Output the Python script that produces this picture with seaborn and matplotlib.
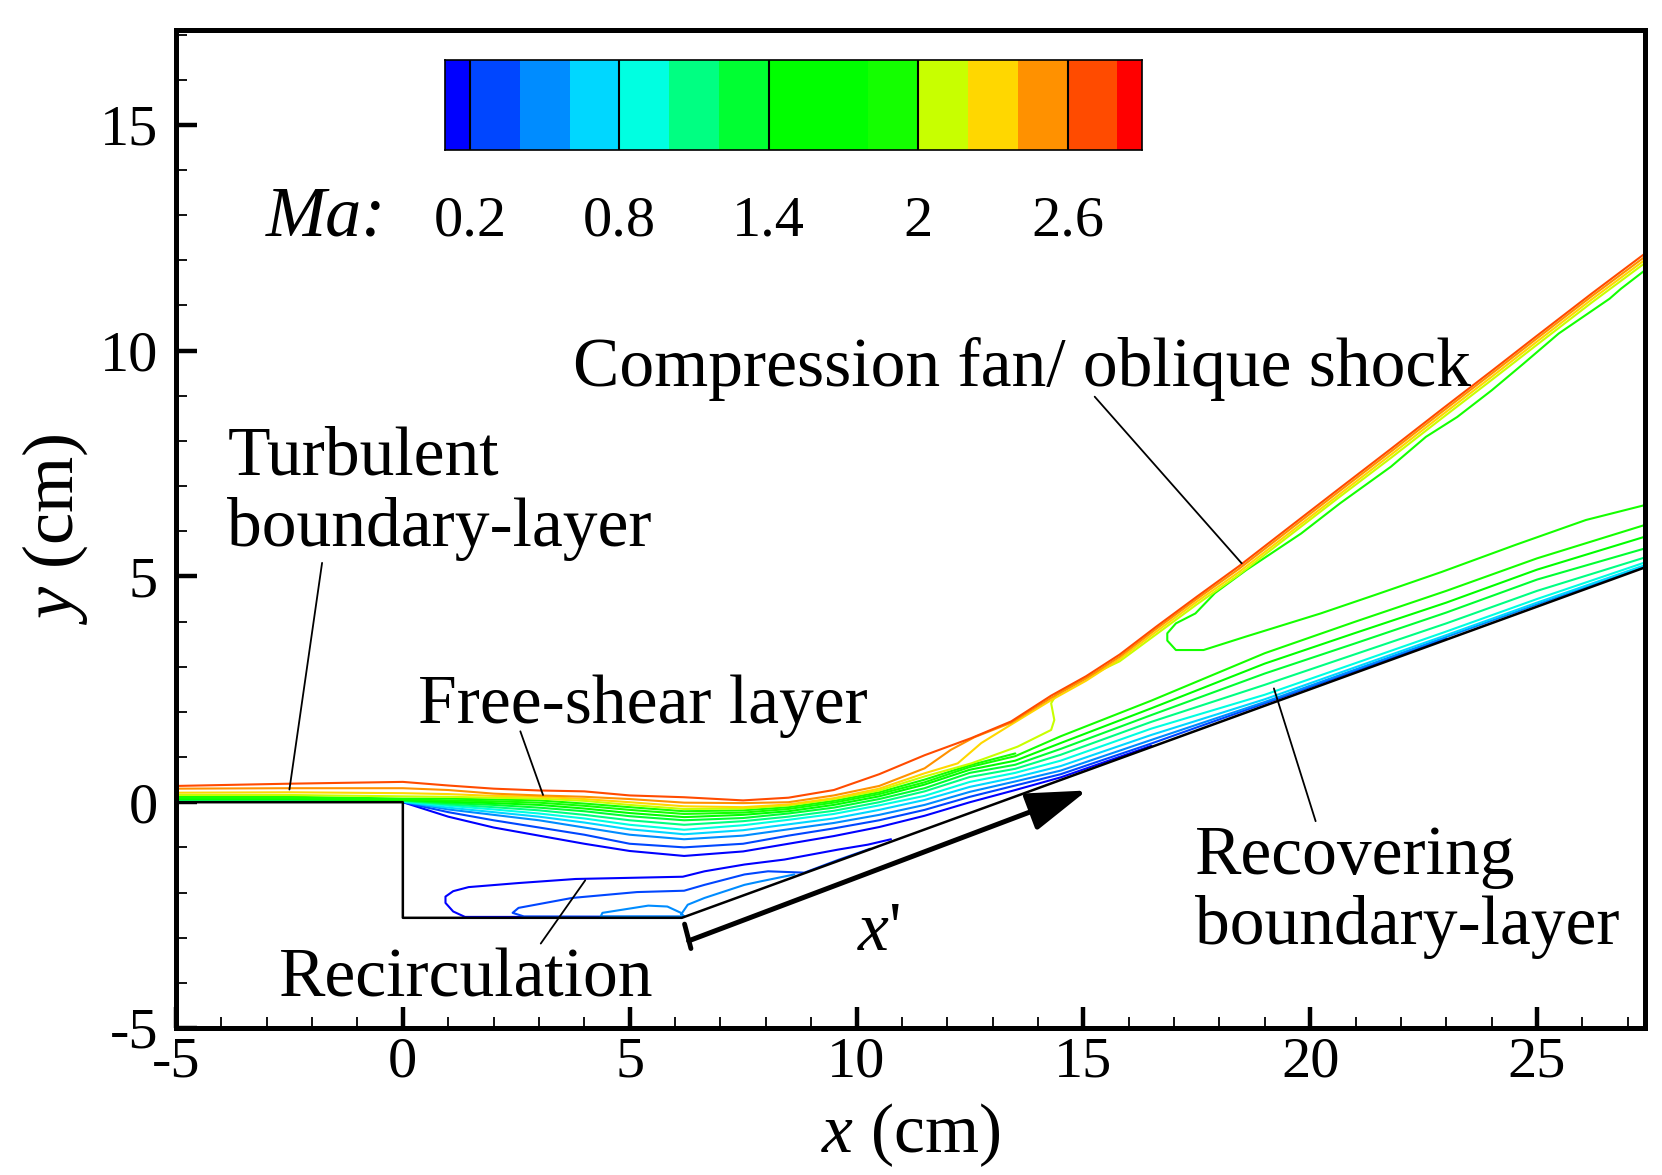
import numpy as np
import pandas as pd
import matplotlib
matplotlib.use("Agg")
import matplotlib.pyplot as plt
from matplotlib.colors import ListedColormap, BoundaryNorm
import seaborn as sns

nan = np.nan

# contour table: y of each Mach level at these x stations (cm), nan = no line there
x_st = [-5, -2.5, 0, 1, 2, 3, 4, 5, 6.2, 7.5, 8.5, 9.5, 10.5, 11.5, 12.5, 13.5, 14.5, 16.5, 19, 21, 23, 25, 27.38]
y_02 = [nan, nan, 0, -.32, -.56, -.74, -.92, -1.08, -1.19, -1.09, -.92, -.75, -.55, -.3, 0, .27, .55, 1.25, nan, nan, nan, nan, nan]
y_04 = [nan, nan, 0, -.22, -.4, -.56, -.72, -.92, -1.0, -.92, -.74, -.58, -.4, -.17, .12, .37, .62, 1.3, 2.19, 2.91, 3.63, nan, nan]
y_06 = [nan, nan, .01, -.16, -.28, -.4, -.56, -.72, -.82, -.74, -.6, -.46, -.28, -.06, .23, .46, .7, 1.38, 2.22, 2.94, 3.66, 4.38, 5.22]
y_08 = [.03, .03, .01, -.12, -.22, -.32, -.45, -.6, -.71, -.62, -.49, -.36, -.17, .05, .34, .55, .8, 1.49, 2.28, 2.99, 3.7, 4.42, 5.25]
y_10 = [.04, .04, .02, -.08, -.16, -.25, -.36, -.5, -.61, -.51, -.39, -.26, -.07, .14, .45, .65, .92, 1.63, 2.38, 3.08, 3.78, 4.5, 5.31]
y_12 = [.05, .05, .03, -.05, -.11, -.18, -.28, -.4, -.5, -.42, -.32, -.19, 0, .24, .56, .74, 1.05, 1.78, 2.6, 3.28, 3.96, 4.68, 5.42]
y_14 = [.06, .06, .04, -.02, -.06, -.12, -.2, -.31, -.4, -.35, -.25, -.12, .07, .31, .65, .83, 1.18, 1.93, 2.85, 3.52, 4.2, 4.93, 5.62]
y_16 = [.07, .07, .05, .01, -.02, -.06, -.14, -.24, -.33, -.28, -.2, -.06, .13, .39, .72, .92, 1.31, 2.08, 3.07, 3.75, 4.42, 5.15, 5.88]
y_18 = [.09, .09, .06, .04, .02, -.01, -.08, -.17, -.26, -.23, -.15, -.01, .18, .44, .78, 1.02, 1.46, 2.25, 3.3, 4.0, 4.68, 5.4, 6.14]
y_20 = [.12, .12, .08, .08, .06, .04, -.03, -.11, -.2, -.18, -.11, .03, .22, .5, .82, 1.08, nan, nan, nan, nan, nan, nan, nan]
# these four run into the shock, so they carry on after x = 11.5 with their own points
y_22 = [.16, .16, .13, .12, .1, .08, .03, -.06, -.15, -.14, -.07, .07, .26, .57]
y_24 = [.21, .22, .2, .18, .14, .12, .07, 0, -.09, -.11, -.05, .09, .3, .64]
y_26 = [.3, .31, .31, .27, .19, .15, .12, .07, -.01, -.02, 0, .15, .36, .75]
y_28 = [.36, .41, .45, .37, .3, .26, .24, .15, .11, .04, .1, .27, .62, 1.04]

shock_x_22 = [12.53, 13.55, 14.29, 14.36, 14.29, 14.4, 14.95, 15.8, 16.61, 17.5, 18.42, 19.5, 20.66, 21.8, 22.9, 24, 24.96, 26.2, 27.38]
shock_y_22 = [.86, 1.23, 1.6, 1.82, 2.19, 2.38, 2.71, 3.12, 3.72, 4.38, 5.03, 5.87, 6.77, 7.64, 8.5, 9.35, 10.1, 11.06, 11.94]
shock_x_24 = [12.23, 12.75, 13.41, 14.29, 15.06, 15.8, 16.61, 17.5, 18.42, 19.5, 20.66, 21.8, 22.9, 24, 24.96, 26.2, 27.38]
shock_y_24 = [.86, 1.31, 1.72, 2.26, 2.69, 3.17, 3.78, 4.44, 5.09, 5.93, 6.83, 7.71, 8.57, 9.42, 10.17, 11.13, 12.01]
shock_x_26 = [12.08, 12.6, 13.41, 14.29, 15.06, 15.8, 16.61, 17.5, 18.42, 19.5, 20.66, 21.8, 22.9, 24, 24.96, 26.2, 27.38]
shock_y_26 = [1.16, 1.44, 1.76, 2.31, 2.74, 3.22, 3.84, 4.5, 5.16, 6.0, 6.9, 7.78, 8.64, 9.49, 10.24, 11.2, 12.08]
shock_x_28 = [12.53, 13.41, 14.29, 15.06, 15.8, 16.61, 17.5, 18.42, 19.5, 20.66, 21.8, 22.9, 24, 24.96, 26.2, 27.38]
shock_y_28 = [1.42, 1.79, 2.36, 2.79, 3.27, 3.89, 4.55, 5.22, 6.06, 6.96, 7.84, 8.7, 9.55, 10.3, 11.26, 12.15]

# green tongue between the shock and the boundary layer
tongue_x = [27.38, 26.85, 26.6, 25.48, 24.7, 24.0, 23.24, 22.55, 21.78, 20.66, 19.8, 18.59, 17.9, 17.47, 17.04, 16.85, 16.85, 17.04, 17.65, 18.59, 20.23, 21.43, 22.9, 24.53, 26.08, 27.38]
tongue_y = [11.78, 11.37, 11.15, 10.38, 9.71, 9.12, 8.53, 8.09, 7.43, 6.62, 5.95, 5.14, 4.63, 4.18, 3.96, 3.74, 3.58, 3.37, 3.37, 3.67, 4.18, 4.59, 5.1, 5.7, 6.25, 6.58]

# recirculation bubble
rc1_x = [6.1, 1.37, 1.11, .94, .94, 1.11, 1.45, 2.55, 3.81, 6.17, 6.65, 7.53, 8.41, 9.59, 10.25, 10.76]
rc1_y = [-2.54, -2.54, -2.42, -2.23, -2.09, -1.97, -1.88, -1.79, -1.7, -1.65, -1.53, -1.38, -1.27, -1.05, -.94, -.82]
rc2_x = [6.1, 2.67, 2.42, 2.55, 3.73, 5.16, 6.2, 6.65, 7.53, 8.05, 8.85, 9.59, 10.3]
rc2_y = [-2.54, -2.53, -2.45, -2.34, -2.12, -1.99, -1.96, -1.83, -1.6, -1.53, -1.56, -1.28, -1.03]
rc3_x = [6.2, 4.36, 4.4, 5.41, 5.83, 6.13, 6.2]
rc3_y = [-2.53, -2.53, -2.45, -2.29, -2.31, -2.45, -2.53]
rc4_x = [6.13, 6.28, 6.65, 7.53, 7.9, 8.63]
rc4_y = [-2.49, -2.27, -2.12, -1.83, -1.75, -1.6]

wall_x = [-5, 0, 0, 6.15, 27.38]
wall_y = [0, 0, -2.56, -2.56, 5.2]

# colour legend
cb_edges = [.1, .2, .4, .6, .8, 1.0, 1.2, 1.4, 1.6, 1.8, 2.0, 2.2, 2.4, 2.6, 2.8, 2.9]
cb_colors = ["#0000ff", "#0046ff", "#008cff", "#00d7ff", "#00ffe1", "#00ff82", "#00ff32", "#00ff00",
             "#00ff00", "#14ff00", "#c8ff00", "#ffd700", "#ff9100", "#ff4b00", "#ff0000"]
cb_ticks = [.2, .8, 1.4, 2, 2.6]
cb_labels = ["0.2", "0.8", "1.4", "2", "2.6"]

level_colors = {"0.2": "#0000ff", "0.4": "#0046ff", "0.6": "#008cff", "0.8": "#00d7ff", "1.0": "#00ffe1",
                "1.2": "#00ff82", "1.4": "#00ff32", "1.6": "#00ff00", "1.8": "#14ff00", "2.0": "#14ff00",
                "2.2": "#c8ff00", "2.4": "#ffd700", "2.6": "#ff9100", "2.8": "#ff4b00"}

# long table for seaborn
rows = []


def add_line(name, level, xs, ys):
    for a, b in zip(xs, ys):
        if not np.isnan(b):
            rows.append({"contour": name, "Ma": level, "x": a, "y": b})


for lev, ys in [("0.2", y_02), ("0.4", y_04), ("0.6", y_06), ("0.8", y_08), ("1.0", y_10),
                ("1.2", y_12), ("1.4", y_14), ("1.6", y_16), ("1.8", y_18), ("2.0", y_20)]:
    add_line("fan" + lev, lev, x_st, ys)
add_line("fan2.2", "2.2", x_st[:14] + shock_x_22, y_22 + shock_y_22)
add_line("fan2.4", "2.4", x_st[:14] + shock_x_24, y_24 + shock_y_24)
add_line("fan2.6", "2.6", x_st[:14] + shock_x_26, y_26 + shock_y_26)
add_line("fan2.8", "2.8", x_st[:14] + shock_x_28, y_28 + shock_y_28)
add_line("tongue", "2.0", tongue_x, tongue_y)
add_line("rc1", "0.2", rc1_x, rc1_y)
add_line("rc2", "0.4", rc2_x, rc2_y)
add_line("rc3", "0.6", rc3_x, rc3_y)
add_line("rc4", "0.6", rc4_x, rc4_y)
df = pd.DataFrame(rows)

sns.set_style("ticks")
plt.rcParams["font.family"] = ["Liberation Serif", "DejaVu Serif"]
plt.rcParams["mathtext.fontset"] = "custom"
plt.rcParams["mathtext.rm"] = "Liberation Serif"
plt.rcParams["mathtext.it"] = "Liberation Serif:italic"
plt.rcParams["axes.unicode_minus"] = False
plt.rcParams["text.color"] = "black"
plt.rcParams["axes.labelcolor"] = "black"
plt.rcParams["axes.edgecolor"] = "black"
plt.rcParams["xtick.color"] = "black"
plt.rcParams["ytick.color"] = "black"

fig = plt.figure(figsize=(16.62, 11.75), dpi=100)
ax = fig.add_axes([176 / 1662, 1 - 1028 / 1175, (1645 - 176) / 1662, (1028 - 30) / 1175])

sns.lineplot(data=df, x="x", y="y", hue="Ma", units="contour", estimator=None, sort=False,
             palette=level_colors, linewidth=1.5, legend=False, ax=ax)
sns.lineplot(x=wall_x, y=wall_y, sort=False, estimator=None, color="black", linewidth=1.8, ax=ax, zorder=4)

ax.set_xlim(-5, 27.38)
ax.set_ylim(-5, 17.1)
ax.set_xticks([-5, 0, 5, 10, 15, 20, 25])
ax.set_yticks([-5, 0, 5, 10, 15])
ax.set_xticks(np.arange(-4, 28, 1), minor=True)
ax.set_yticks(np.arange(-4, 18, 1), minor=True)
ax.tick_params(which="major", direction="in", length=15, width=3.2, labelsize=42)
ax.tick_params(which="minor", direction="in", length=8, width=1.3)
ax.tick_params(axis="x", which="major", pad=6)
ax.tick_params(axis="y", which="major", pad=13)
ax.set_xlabel("$x$ (cm)", fontsize=50, labelpad=9)
ax.set_ylabel("$y$ (cm)", fontsize=52, labelpad=7)
for side in ["left", "bottom", "right", "top"]:
    ax.spines[side].set_linewidth(3.6)

# labels and their leader lines
ts = 50
ax.text(3.76, 9.22, "Compression fan/ oblique shock", fontsize=ts)
ax.text(-3.87, 7.25, "Turbulent", fontsize=ts)
ax.text(-3.87, 5.67, "boundary-layer", fontsize=ts)
ax.text(.33, 1.76, "Free-shear layer", fontsize=ts)
ax.text(-2.73, -4.31, "Recirculation", fontsize=ts)
ax.text(17.45, -1.6, "Recovering", fontsize=ts)
ax.text(17.45, -3.15, "boundary-layer", fontsize=ts)
ax.text(10.0, -3.28, "$x$'", fontsize=ts)
ax.text(-3.03, 12.54, "Ma:", fontsize=52, style="italic")

for p, q in [((-1.78, 5.3), (-2.5, .28)), ((2.59, 1.57), (3.09, .16)), ((4.02, -1.73), (3.04, -3.13)),
             ((15.25, 8.98), (18.49, 5.29)), ((19.2, 2.52), (20.12, -.42))]:
    ax.plot([p[0], q[0]], [p[1], q[1]], color="black", lw=1.3, zorder=5)

# x' arrow
ax.annotate("", xy=(15.08, .26), xytext=(6.3, -3.07),
            arrowprops=dict(arrowstyle="-|>,head_length=0.74,head_width=0.24", color="black", lw=3.6,
                            mutation_scale=50, shrinkA=0, shrinkB=0))
ax.plot([6.21, 6.35], [-2.7, -3.24], color="black", lw=3.5, zorder=5)

# legend bar
cax = ax.inset_axes([.93, 14.44, 15.37, 2.0], transform=ax.transData)
cb_cmap = ListedColormap(cb_colors)
cax.pcolormesh(cb_edges, [0, 1], [np.arange(len(cb_colors))], cmap=cb_cmap,
               norm=BoundaryNorm(np.arange(len(cb_colors) + 1) - .5, len(cb_colors)))
for t in cb_ticks:
    cax.axvline(t, color="black", lw=1.5)
cax.set_yticks([])
cax.set_xticks(cb_ticks)
cax.set_xticklabels(cb_labels)
cax.tick_params(axis="x", length=0, labelsize=42, pad=33)
for s in cax.spines.values():
    s.set_visible(True)
    s.set_linewidth(1.2)

fig.savefig("out.png", dpi=100)
